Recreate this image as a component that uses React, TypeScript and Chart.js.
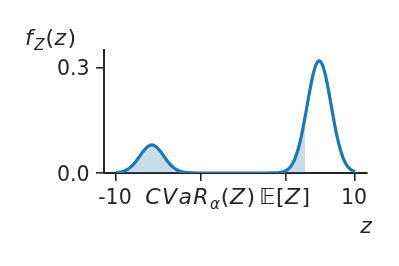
import React, { useEffect, useRef } from 'react';
import { Chart, registerables } from 'chart.js';

Chart.register(...registerables);

// ---- data ----
const xValues = [
  -10, -9.75, -9.5, -9.25, -9, -8.75, -8.5, -8.25, -8, -7.75, -7.5, -7.25, -7,
  -6.75, -6.5, -6.25, -6, -5.75, -5.5, -5.25, -5, -4.75, -4.5, -4.25, -4, -3.5,
  -3, -2, -1, 0, 1, 2, 3, 3.5, 4, 4.25, 4.5, 4.75, 5, 5.25, 5.5, 5.75, 6, 6.25,
  6.5, 6.75, 7, 7.25, 7.5, 7.75, 8, 8.25, 8.5, 8.75, 9, 9.25, 9.5, 9.75, 10,
];
const densityValues = [
  0.0009, 0.0018, 0.0035, 0.0063, 0.0108, 0.0173, 0.0259, 0.0365, 0.0484,
  0.0602, 0.0704, 0.0773, 0.0798, 0.0773, 0.0704, 0.0602, 0.0484, 0.0365,
  0.0259, 0.0173, 0.0108, 0.0063, 0.0035, 0.0018, 0.0009, 0.0002, 0.0, 0.0,
  0.0, 0.0, 0.0, 0.0, 0.0001, 0.0007, 0.0035, 0.0073, 0.014, 0.0254, 0.0432,
  0.069, 0.1036, 0.1461, 0.1936, 0.2409, 0.2817, 0.3093, 0.3192, 0.3093,
  0.2817, 0.2409, 0.1936, 0.1461, 0.1036, 0.069, 0.0432, 0.0254, 0.014,
  0.0073, 0.0035,
];
const shadeCutoff = 5.82;
const shadeCutoffDensity = 0.159;

const xTickValues = [-10, -2.88, 4.2, 10];
const xTickLabels = ['-10', 'CVaR_α(Z)', '𝔼[Z]', '10'];
const yTickValues = [0, 0.3];
const yTickLabels = ['0.0', '0.3'];
const yAxisLabel = 'f_Z(z)';
const xAxisLabel = 'z';

const X_MIN = -11;
const X_MAX = 11;
const Y_MIN = 0;
const Y_MAX = 0.35;

const LINE_COLOR = '#1f77b4';
const FILL_COLOR = 'rgba(31,119,180,0.25)';
const TEXT_COLOR = '#262626';
const AXIS_COLOR = '#262626';
const FONT = '"DejaVu Sans", sans-serif';

type Part = { t: string; font: string; dy: number; gap: number };

function mathParts(label: string): Part[] {
  const out: Part[] = [];
  const chars = Array.from(label);
  for (let i = 0; i < chars.length; i++) {
    let c = chars[i];
    if (c === '_') {
      i++;
      c = chars[i];
      out.push({ t: c, font: `italic 15px ${FONT}`, dy: 4.5, gap: 1 });
      continue;
    }
    if (/[A-Za-z\u03b1]/.test(c)) {
      out.push({ t: c, font: `italic 22px ${FONT}`, dy: 0, gap: 1.4 });
    } else {
      out.push({ t: c, font: `22px ${FONT}`, dy: 0, gap: 0.5 });
    }
  }
  return out;
}

function partsWidth(ctx: CanvasRenderingContext2D, parts: Part[]) {
  let w = 0;
  parts.forEach((p, i) => {
    ctx.font = p.font;
    w += ctx.measureText(p.t).width + (i < parts.length - 1 ? p.gap : 0);
  });
  return w;
}

function drawParts(ctx: CanvasRenderingContext2D, parts: Part[], x: number, baseline: number) {
  let cx = x;
  ctx.textAlign = 'left';
  ctx.textBaseline = 'alphabetic';
  parts.forEach((p) => {
    ctx.font = p.font;
    ctx.fillText(p.t, cx, baseline + p.dy);
    cx += ctx.measureText(p.t).width + p.gap;
  });
}

function drawLabel(ctx: CanvasRenderingContext2D, label: string, centerX: number, baseline: number) {
  if (/^-?[0-9.]+$/.test(label)) {
    ctx.font = `20.5px ${FONT}`;
    ctx.textAlign = 'center';
    ctx.textBaseline = 'alphabetic';
    ctx.fillText(label, centerX, baseline);
    return;
  }
  const parts = mathParts(label);
  const w = partsWidth(ctx, parts);
  drawParts(ctx, parts, centerX - w / 2, baseline);
}

const labelPlugin = {
  id: 'customLabels',
  afterDraw(chart: any) {
    const ctx: CanvasRenderingContext2D = chart.ctx;
    const area = chart.chartArea;
    const xs = chart.scales.x;
    const ys = chart.scales.y;
    ctx.save();
    ctx.fillStyle = TEXT_COLOR;
    yTickValues.forEach((v, i) => {
      ctx.font = `20.5px ${FONT}`;
      ctx.textAlign = 'right';
      ctx.textBaseline = 'alphabetic';
      ctx.fillText(yTickLabels[i], area.left - 14.5, ys.getPixelForValue(v) + 7.8);
    });
    xTickValues.forEach((v, i) => {
      drawLabel(ctx, xTickLabels[i], xs.getPixelForValue(v) - 1, area.bottom + 31);
    });
    drawParts(ctx, mathParts(yAxisLabel), 25, 45);
    drawLabel(ctx, xAxisLabel, area.right - 1, area.bottom + 60);
    ctx.restore();
  },
};

export default function App() {
  const canvasRef = useRef<HTMLCanvasElement | null>(null);

  useEffect(() => {
    if (!canvasRef.current) return;
    const lineData = xValues.map((x, i) => ({ x, y: densityValues[i] }));
    const shadeData = xValues
      .map((x, i) => ({ x, y: densityValues[i] }))
      .filter((p) => p.x < shadeCutoff);
    shadeData.push({ x: shadeCutoff, y: shadeCutoffDensity });

    const chart = new Chart(canvasRef.current, {
      type: 'line',
      data: {
        datasets: [
          {
            data: lineData,
            borderColor: LINE_COLOR,
            borderWidth: 3.2,
            pointRadius: 0,
            fill: false,
            cubicInterpolationMode: 'monotone',
            order: 0,
          },
          {
            data: shadeData,
            borderWidth: 0,
            borderColor: 'rgba(0,0,0,0)',
            backgroundColor: FILL_COLOR,
            pointRadius: 0,
            fill: 'origin',
            cubicInterpolationMode: 'monotone',
            order: 1,
          },
        ],
      },
      options: {
        animation: false,
        responsive: false,
        devicePixelRatio: 1,
        events: [],
        layout: { padding: { left: 0, top: 50, right: 32, bottom: 0 } },
        plugins: {
          legend: { display: false },
          tooltip: { enabled: false },
          title: { display: false },
        },
        scales: {
          x: {
            type: 'linear',
            min: X_MIN,
            max: X_MAX,
            z: 1,
            afterBuildTicks: (scale: any) => {
              scale.ticks = xTickValues.map((value) => ({ value }));
            },
            afterFit: (scale: any) => {
              scale.height = 93;
            },
            ticks: { display: false },
            grid: {
              display: true,
              drawOnChartArea: false,
              drawTicks: true,
              tickLength: 8,
              color: AXIS_COLOR,
              lineWidth: 1.6,
            },
            border: { display: true, color: AXIS_COLOR, width: 2 },
          },
          y: {
            type: 'linear',
            min: Y_MIN,
            max: Y_MAX,
            z: 1,
            afterBuildTicks: (scale: any) => {
              scale.ticks = yTickValues.map((value) => ({ value }));
            },
            afterFit: (scale: any) => {
              scale.width = 104;
            },
            ticks: { display: false },
            grid: {
              display: true,
              drawOnChartArea: false,
              drawTicks: true,
              tickLength: 8,
              color: AXIS_COLOR,
              lineWidth: 1.6,
            },
            border: { display: true, color: AXIS_COLOR, width: 2 },
          },
        },
      },
      plugins: [labelPlugin],
    } as any);
    return () => chart.destroy();
  }, []);

  return (
    <div style={{ position: 'absolute', left: 0, top: 0, width: 399, height: 266, background: '#fff' }}>
      <canvas ref={canvasRef} width={399} height={266} style={{ display: 'block' }} />
    </div>
  );
}
